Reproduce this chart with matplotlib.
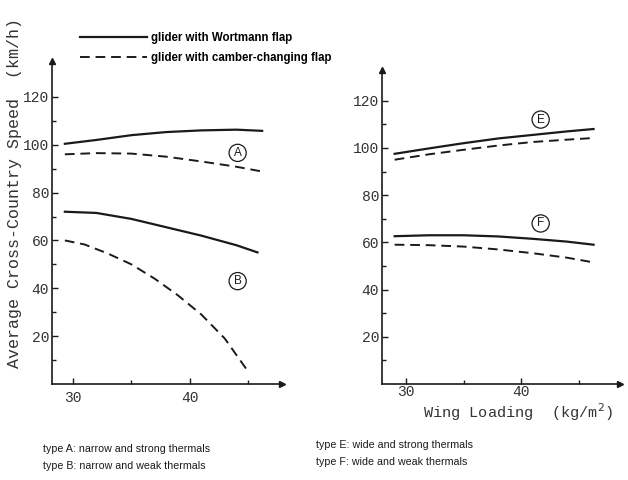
import matplotlib.pyplot as plt

# wing loading (kg/m^2) and average cross-country speed (km/h)
xA = [29.3, 32, 35, 38, 41, 44, 46.2]
solid_A = [100.4, 102, 104, 105.3, 106, 106.3, 105.8]
dash_A = [96, 96.5, 96.3, 95, 93, 90.8, 88.8]

xB = [29.3, 32, 35, 38, 41, 44, 45.8]
solid_B = [72, 71.5, 69, 65.5, 62, 58, 55]
xB2 = [29.3, 31, 33, 35, 37, 39, 41, 43, 45.1]
dash_B = [60, 58.3, 54.5, 50, 44, 37, 29, 19, 4.5]

xE = [29, 32, 35, 38, 41, 44, 46.3]
solid_E = [97.5, 99.8, 102, 104, 105.5, 107, 108]
dash_E = [95, 97.3, 99.2, 101, 102.5, 103.5, 104.2]
solid_F = [62.6, 63, 63, 62.5, 61.5, 60.3, 59]
dash_F = [59, 58.8, 58.2, 57, 55.4, 53.5, 51.5]

yticks = [20, 40, 60, 80, 100, 120]
xticks = [30, 40]

ink = '#1a1a1a'
mono = 'Liberation Mono'
sans = 'Liberation Sans'
dash = (0, (5, 3))

fig = plt.figure(figsize=(6.28, 4.8), dpi=100)
ax1 = fig.add_axes([52/628, 1-384/480, 230/628, 323/480])
ax2 = fig.add_axes([382/628, 1-384/480, 238/628, 314/480])


def style(ax, xlim, ylim, xpad):
    ax.set_xlim(*xlim)
    ax.set_ylim(*ylim)
    for s in ['top', 'right']:
        ax.spines[s].set_visible(False)
    for s in ['left', 'bottom']:
        ax.spines[s].set_color(ink)
        ax.spines[s].set_linewidth(1.2)
    ax.set_xticks(xticks)
    ax.set_xticks([35, 45], minor=True)
    ax.set_yticks(yticks)
    ax.set_yticks([10, 30, 50, 70, 90, 110], minor=True)
    ax.tick_params(direction='in', length=4, width=1, colors=ink,
                   labelsize=10.5, pad=2)
    ax.tick_params(axis='x', pad=xpad)
    ax.tick_params(which='minor', direction='in', length=3, width=1, colors=ink)
    for lab in ax.get_xticklabels() + ax.get_yticklabels():
        lab.set_family(mono)
        lab.set_color('#333333')
    # arrows at the axis ends
    ax.plot(0, 1, '^', color=ink, ms=4, transform=ax.transAxes, clip_on=False)
    ax.plot(1, 0, '>', color=ink, ms=4, transform=ax.transAxes, clip_on=False)


def circ(ax, x, y, t):
    ax.text(x, y, t, fontsize=8.5, family=sans, ha='center', va='center', color=ink,
            bbox=dict(boxstyle='circle,pad=0.22', fc='white', ec=ink, lw=0.9))


style(ax1, (28.2, 47.9), (0, 135), 5)
l1, = ax1.plot(xA, solid_A, color=ink, lw=1.6)
l2, = ax1.plot(xA, dash_A, color=ink, lw=1.4, ls=dash)
ax1.plot(xB, solid_B, color=ink, lw=1.6)
ax1.plot(xB2, dash_B, color=ink, lw=1.4, ls=dash)
circ(ax1, 44.1, 96.6, 'A')
circ(ax1, 44.1, 43, 'B')

style(ax2, (27.9, 48.6), (0, 133), 1)
ax2.plot(xE, solid_E, color=ink, lw=1.6)
ax2.plot(xE, dash_E, color=ink, lw=1.4, ls=dash)
ax2.plot(xE, solid_F, color=ink, lw=1.6)
ax2.plot(xE, dash_F, color=ink, lw=1.4, ls=dash)
circ(ax2, 41.7, 112, 'E')
circ(ax2, 41.7, 68, 'F')

fig.text(15/628, 1-193/480, 'Average Cross-Country Speed  (km/h)', rotation=90,
         ha='center', va='center', family=mono, fontsize=12, color='#333333')
fig.text(518/628, 1-412/480, 'Wing Loading  (kg/m$^2$)', ha='center', va='center',
         family=mono, fontsize=11, color='#333333')

fig.legend([l1, l2], ['glider with Wortmann flap', 'glider with camber-changing flap'],
           loc='upper left', bbox_to_anchor=(70/628, 1-22/480), frameon=False,
           handlelength=5.8, handletextpad=0.3, labelspacing=0.7,
           prop=dict(family=sans, size=8.3, weight='bold'))

fig.text(43/628, 1-449/480, 'type A: narrow and strong thermals', family=sans,
         fontsize=7.7, va='center', color=ink)
fig.text(43/628, 1-466/480, 'type B: narrow and weak thermals', family=sans,
         fontsize=7.7, va='center', color=ink)
fig.text(316/628, 1-445/480, 'type E: wide and strong thermals', family=sans,
         fontsize=7.7, va='center', color=ink)
fig.text(316/628, 1-462/480, 'type F: wide and weak thermals', family=sans,
         fontsize=7.7, va='center', color=ink)

fig.savefig('out.png', dpi=100)
